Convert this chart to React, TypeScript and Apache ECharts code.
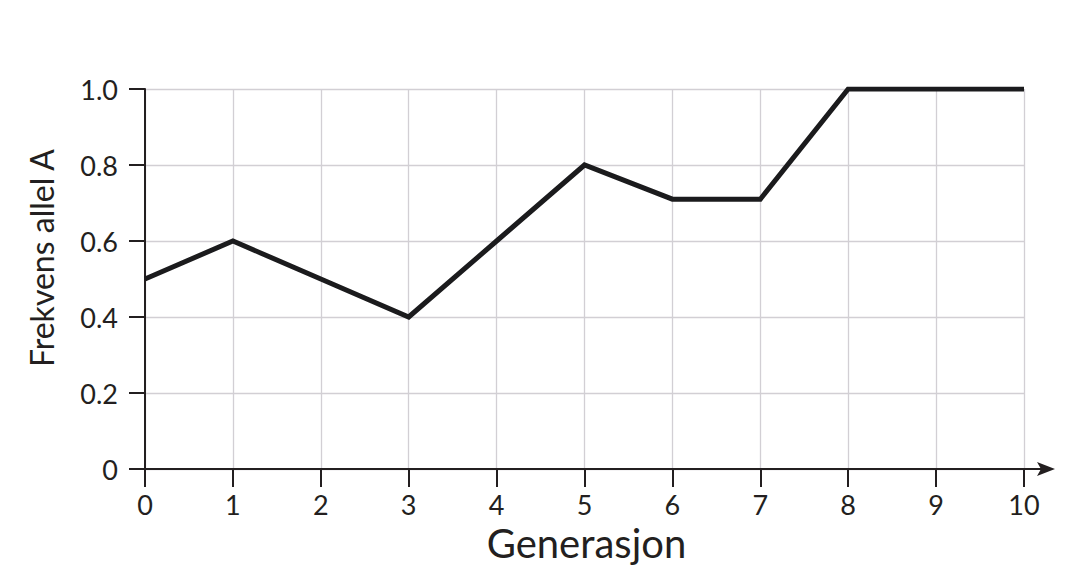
import React, { useEffect, useRef } from 'react';
import * as echarts from 'echarts';

const generations = [0, 1, 2, 3, 4, 5, 6, 7, 8, 9, 10];
const frequencyA = [0.5, 0.6, 0.5, 0.4, 0.6, 0.8, 0.71, 0.71, 1.0, 1.0, 1.0];
const yTicks = [0, 0.2, 0.4, 0.6, 0.8, 1.0];

const ink = '#231f20';
const gridColor = '#d2cfd4';
const font = 'Lato, "Open Sans", sans-serif';

// arrow head plus a short stem so the axis looks like it runs on past 10
const arrowPath = 'path://M7,0 L14,18 L7,14 L0,18 Z M6,14 L8,14 L8,32 L6,32 Z';

const App: React.FC = () => {
  const chartRef = useRef<HTMLDivElement>(null);

  useEffect(() => {
    document.body.style.margin = '0';
    if (!chartRef.current) return;
    const chart = echarts.init(chartRef.current, null, { renderer: 'svg' });

    chart.setOption({
      animation: false,
      backgroundColor: '#ffffff',
      grid: {
        left: 145,
        right: 56,
        top: 89,
        bottom: 107,
        containLabel: false,
        outerBoundsMode: 'none',
      },
      xAxis: {
        type: 'value',
        min: generations[0],
        max: generations[generations.length - 1],
        interval: 1,
        name: 'Generasjon',
        nameLocation: 'middle',
        nameGap: 54,
        nameTextStyle: { color: ink, fontSize: 40, fontFamily: font, padding: [0, 0, 0, 4] },
        axisLine: {
          show: true,
          symbol: ['none', arrowPath],
          symbolSize: [14, 32],
          symbolOffset: [0, 15],
          lineStyle: { color: ink, width: 2 },
        },
        axisTick: { show: true, length: 18, lineStyle: { color: ink, width: 2 } },
        axisLabel: { color: ink, fontSize: 27, fontFamily: font, margin: 22 },
        splitLine: { show: true, lineStyle: { color: gridColor, width: 1.3 } },
      },
      yAxis: {
        type: 'value',
        min: yTicks[0],
        max: yTicks[yTicks.length - 1],
        interval: 0.2,
        name: 'Frekvens allel A',
        nameLocation: 'middle',
        nameGap: 88,
        nameRotate: 90,
        nameTextStyle: { color: ink, fontSize: 32, fontFamily: font, padding: [0, 0, 0, 42] },
        axisLine: { show: true, lineStyle: { color: ink, width: 2 } },
        axisTick: { show: true, length: 16, lineStyle: { color: ink, width: 2 } },
        axisLabel: {
          color: ink,
          fontSize: 27,
          fontFamily: font,
          margin: 27,
          formatter: (v: number) => (v === 0 ? '0' : v.toFixed(1)),
        },
        splitLine: { show: true, lineStyle: { color: gridColor, width: 1.3 } },
      },
      series: [
        {
          type: 'line',
          data: generations.map((g, i) => [g, frequencyA[i]]),
          symbol: 'none',
          lineStyle: { color: '#1b1b1d', width: 5, join: 'miter', cap: 'butt' },
          z: 5,
        },
      ],
    });

    return () => {
      chart.dispose();
    };
  }, []);

  return <div ref={chartRef} style={{ width: 1080, height: 576 }} />;
};

export default App;
